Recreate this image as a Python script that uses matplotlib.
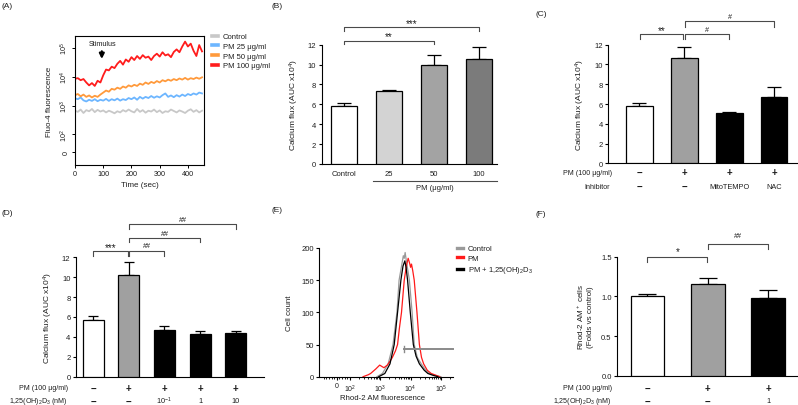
import matplotlib
matplotlib.use('Agg')
import matplotlib.pyplot as plt
import numpy as np
from matplotlib.lines import Line2D
from matplotlib.transforms import blended_transform_factory

plt.rcParams['font.family'] = ['Liberation Sans', 'DejaVu Sans']
plt.rcParams['mathtext.fontset'] = 'custom'
plt.rcParams['mathtext.rm'] = 'Liberation Sans'
plt.rcParams['mathtext.it'] = 'Liberation Sans:italic'
plt.rcParams['mathtext.bf'] = 'Liberation Sans:bold'
plt.rcParams['mathtext.default'] = 'rm'
plt.rcParams['axes.linewidth'] = 0.8
TXT = '#1e1e1e'

# ---------------- data ----------------
# (A) Fluo-4 traces, log10 fluorescence every 10 s
time_sec = [0, 10, 20, 30, 40, 50, 60, 70, 80, 90, 100, 110, 120, 130, 140, 150,
            160, 170, 180, 190, 200, 210, 220, 230, 240, 250, 260, 270, 280, 290,
            300, 310, 320, 330, 340, 350, 360, 370, 380, 390, 400, 410, 420, 430,
            440, 450]
ctrl_log = [2.82, 2.78, 2.86, 2.74, 2.84, 2.80, 2.88, 2.77, 2.85, 2.79, 2.83, 2.76,
            2.82, 2.78, 2.73, 2.80, 2.76, 2.84, 2.79, 2.86, 2.80, 2.76, 2.88, 2.78,
            2.84, 2.75, 2.82, 2.79, 2.86, 2.77, 2.83, 2.74, 2.80, 2.78, 2.86, 2.81,
            2.76, 2.83, 2.79, 2.74, 2.82, 2.87, 2.78, 2.84, 2.76, 2.82]
pm25_log = [3.25, 3.22, 3.28, 3.18, 3.14, 3.20, 3.16, 3.22, 3.15, 3.20, 3.17, 3.23,
            3.16, 3.22, 3.18, 3.24, 3.17, 3.22, 3.19, 3.26, 3.22, 3.28, 3.20, 3.30,
            3.24, 3.30, 3.26, 3.33, 3.27, 3.32, 3.28, 3.36, 3.42, 3.30, 3.35, 3.29,
            3.36, 3.31, 3.38, 3.33, 3.40, 3.36, 3.42, 3.38, 3.45, 3.42]
pm50_log = [3.36, 3.40, 3.32, 3.38, 3.30, 3.35, 3.28, 3.34, 3.30, 3.38, 3.45, 3.52,
            3.48, 3.58, 3.55, 3.62, 3.58, 3.66, 3.62, 3.70, 3.66, 3.72, 3.68, 3.76,
            3.72, 3.80, 3.75, 3.82, 3.78, 3.85, 3.80, 3.88, 3.84, 3.90, 3.86, 3.92,
            3.88, 3.94, 3.90, 3.96, 3.90, 3.95, 3.92, 3.97, 3.93, 3.98]
pm100_log = [3.93, 3.95, 3.88, 3.92, 3.80, 3.70, 3.78, 3.68, 3.86, 3.80, 4.05, 4.25,
             4.22, 4.35, 4.30, 4.45, 4.55, 4.42, 4.60, 4.52, 4.68, 4.58, 4.72, 4.62,
             4.75, 4.66, 4.70, 4.58, 4.72, 4.80, 4.70, 4.85, 4.74, 4.78, 4.68, 4.86,
             4.95, 4.85, 5.05, 5.22, 5.05, 5.15, 4.90, 4.72, 5.10, 4.88]
trace_labels = ['Control', 'PM 25 μg/ml', 'PM 50 μg/ml', 'PM 100 μg/ml']
trace_colors = ['#c8c8c8', '#6db6ff', '#ff9a3c', '#ff1c1c']

# (B)
b_labels = ['Control', '25', '50', '100']
b_means = [5.8, 7.3, 10.0, 10.6]
b_errs = [0.3, 0.12, 1.0, 1.15]

# (C)
c_means = [5.77, 10.62, 5.1, 6.71]
c_errs = [0.3, 1.18, 0.05, 0.98]
c_pm = ['−', '+', '+', '+']
c_inhib = ['−', '−', 'MitoTEMPO', 'NAC']

# (D)
d_means = [5.73, 10.22, 4.69, 4.29, 4.36]
d_errs = [0.4, 1.34, 0.37, 0.33, 0.2]
d_pm = ['−', '+', '+', '+', '+']
d_vd = ['−', '−', '10$^{-1}$', '1', '10']

# (E) Rhod-2 AM histograms (fluorescence, cell count)
e_ctrl_x = [776, 1175, 1820, 2630, 3548, 4169, 5754, 6166, 6607, 7244, 9120,
            11220, 13183, 16600, 22390, 31620, 41690, 63100, 100000]
e_ctrl_y = [0, 5, 20, 50, 100, 150, 188, 184, 193, 180, 150, 100, 50, 30, 20, 10, 5, 2, 0]
e_pm_x = [270, 400, 480, 710, 955, 1120, 1320, 1700, 2090, 2510, 3160, 3715, 4265,
          5012, 6166, 7244, 8318, 9333, 10000, 10720, 11750, 13180, 16220, 19500,
          22900, 26920, 35480, 47860, 70790, 91200]
e_pm_y = [0, 3, 5, 12, 18, 16, 14, 18, 24, 30, 40, 50, 75, 100, 150, 172, 184, 176,
          170, 175, 165, 150, 100, 50, 30, 20, 10, 5, 2, 0]
e_vd_x = [890, 1410, 2090, 2880, 3715, 4786, 5623, 6457, 7080, 7943, 9772, 12300,
          15140, 19500, 28180, 37150, 56230, 79430]
e_vd_y = [0, 5, 20, 50, 100, 150, 172, 180, 170, 150, 100, 50, 32, 20, 10, 5, 2, 0]
e_gate = [5900, 245000]
e_gate_level = 43
e_labels = ['Control', 'PM', 'PM + 1,25(OH)$_2$D$_3$']

# (F)
f_means = [1.0, 1.152, 0.976]
f_errs = [0.025, 0.084, 0.104]
f_pm = ['−', '+', '+']
f_vd = ['−', '−', '1']

# ---------------- figure ----------------
W, H = 798, 406
fig = plt.figure(figsize=(W / 100, H / 100), dpi=100)


def px_axes(x0, y0, x1, y1):
    return fig.add_axes([x0 / W, 1 - y1 / H, (x1 - x0) / W, (y1 - y0) / H])


def ftext(x, y, s, **kw):
    kw.setdefault('color', TXT)
    fig.text(x / W, 1 - y / H, s, **kw)


def style_open(ax):
    ax.spines['top'].set_visible(False)
    ax.spines['right'].set_visible(False)
    ax.tick_params(axis='both', direction='out', length=2.5, width=0.8,
                   labelsize=5.5, labelcolor=TXT, pad=1.5)


def bar_panel(box, means, errs, colors, xlim, ymax, yticks, width, capsize):
    ax = px_axes(*box)
    x = np.arange(len(means))
    ax.bar(x, means, width=width, color=colors, edgecolor='black', linewidth=0.9, zorder=3)
    ax.errorbar(x, means, yerr=[np.zeros(len(means)), errs], fmt='none', ecolor='black',
                elinewidth=0.9, capsize=capsize, capthick=0.9, zorder=2)
    ax.set_xlim(*xlim)
    ax.set_ylim(0, ymax)
    ax.set_yticks(yticks)
    style_open(ax)
    return ax


def brackets(ax, box, ymax, specs):
    y0, y1 = box[1], box[3]

    def yv(ypx):
        return (y1 - ypx) / (y1 - y0) * ymax

    for i, j, line_px, drop_px, lab, base_px, fs in specs:
        ax.plot([i, i, j, j], [yv(line_px + drop_px), yv(line_px), yv(line_px), yv(line_px + drop_px)],
                color='#4a4a4a', lw=0.8, clip_on=False)
        ax.text((i + j) / 2, yv(base_px), lab, ha='center', va='baseline', fontsize=fs,
                color=TXT, clip_on=False)


def row_labels(ax, box, rows):
    y0, y1 = box[1], box[3]
    tr = blended_transform_factory(ax.transData, ax.transAxes)
    for name, vals, ypx, name_x in rows:
        ya = (y1 - ypx) / (y1 - y0)
        for k, v in enumerate(vals):
            if v in ('−', '+'):
                ax.text(k, ya, v, transform=tr, ha='center', va='center', fontsize=7,
                        fontweight='bold', color=TXT, clip_on=False)
            else:
                ax.text(k, ya, v, transform=tr, ha='center', va='center', fontsize=5.3,
                        color=TXT, clip_on=False)
        ftext(name_x, ypx, name, ha='right', va='center', fontsize=5.1)


# ---- (A)
boxA = (75, 37, 204, 166)
axA = px_axes(*boxA)
for vals, c in zip([ctrl_log, pm25_log, pm50_log, pm100_log], trace_colors):
    axA.plot(time_sec, 10 ** np.array(vals), color=c, lw=1.3)
axA.set_yscale('symlog', linthresh=100, linscale=0.62 * 0.9)
axA.set_ylim(-72, 2.6e5)
axA.set_xlim(0, 457)
axA.set_xticks([0, 100, 200, 300, 400])
axA.set_yticks([0, 1e2, 1e3, 1e4, 1e5])
axA.set_yticklabels(['0', '10$^2$', '10$^3$', '10$^4$', '10$^5$'], rotation=90, va='center')
axA.yaxis.set_minor_locator(matplotlib.ticker.NullLocator())
axA.tick_params(axis='both', direction='out', length=2, width=0.7, labelsize=5.2,
                labelcolor=TXT, pad=1.5)
axA.set_xlabel('Time (sec)', fontsize=5.8, color=TXT, labelpad=3)
axA.set_ylabel('Fluo-4 fluorescence', fontsize=5.8, color=TXT, labelpad=4)
axA.annotate('', xy=(95, 10 ** 4.52), xytext=(95, 10 ** 4.98),
             arrowprops=dict(arrowstyle='-|>', lw=1.6, color='black', mutation_scale=7))
axA.text(99, 10 ** 5.17, 'Stimulus', ha='center', va='center', fontsize=5.2, color=TXT)
hA = [Line2D([], [], color=c, lw=2.6) for c in trace_colors]
fig.legend(hA, trace_labels, loc='upper left', bbox_to_anchor=(212 / W, 1 - 34 / H),
           frameon=False, fontsize=5.5, handlelength=0.8, handletextpad=0.6,
           labelspacing=0.3, borderaxespad=0, borderpad=0, labelcolor=TXT)

# ---- (B)
boxB = (321.7, 45.7, 496.7, 165)
axB = bar_panel(boxB, b_means, b_errs, ['white', '#d3d3d3', '#a3a3a3', '#7b7b7b'],
                (-0.5, 3.39), 12, [0, 2, 4, 6, 8, 10, 12], 0.57, 4.8)
axB.set_xticks(range(len(b_labels)))
axB.set_xticklabels(b_labels)
axB.tick_params(axis='x', length=0, pad=4, labelsize=5.5)
axB.set_ylabel('Calcium flux (AUC x10$^4$)', fontsize=6, color=TXT, labelpad=5)
brackets(axB, boxB, 12, [(0, 2, 41.7, 3.5, '**', 40.3, 7), (0, 3, 28.3, 3.7, '***', 27.5, 7)])
fig.add_artist(Line2D([373 / W, 497 / W], [1 - 182 / H, 1 - 182 / H], color='#4a4a4a', lw=0.8))
ftext(435, 189, 'PM (μg/ml)', ha='center', va='center', fontsize=5.5)

# ---- (C)
boxC = (608.3, 45.7, 796.7, 164.3)
axC = bar_panel(boxC, c_means, c_errs, ['white', '#a0a0a0', 'black', 'black'],
                (-0.69, 3.5), 12, [0, 2, 4, 6, 8, 10, 12], 0.59, 4.8)
axC.set_xticks([])
axC.set_ylabel('Calcium flux (AUC x10$^4$)', fontsize=6, color=TXT, labelpad=5)
brackets(axC, boxC, 12, [(0.02, 0.98, 35, 5, '**', 34.3, 7),
                         (1.02, 2.0, 35, 5, '#', 31.6, 5.2),
                         (1.02, 3.0, 22.3, 5.4, '#', 19, 5.2)])
row_labels(axC, boxC, [('PM (100 μg/ml)', c_pm, 173.3, 611.7),
                       ('Inhibitor', c_inhib, 187.3, 610)])

# ---- (D)
boxD = (76, 258.3, 263.5, 377.7)
axD = bar_panel(boxD, d_means, d_errs, ['white', '#a0a0a0', 'black', 'black', 'black'],
                (-0.48, 4.78), 12, [0, 2, 4, 6, 8, 10, 12], 0.59, 3.8)
axD.set_xticks([])
axD.set_ylabel('Calcium flux (AUC x10$^4$)', fontsize=6, color=TXT, labelpad=5)
brackets(axD, boxD, 12, [(0.0, 0.98, 251.7, 5, '***', 251.0, 7),
                         (1.02, 2.0, 251.7, 5, '##', 248.3, 5.2),
                         (1.02, 3.0, 239.3, 4, '##', 235.7, 5.2),
                         (1.02, 4.0, 225, 5, '##', 222.3, 5.2)])
row_labels(axD, boxD, [('PM (100 μg/ml)', d_pm, 389, 68),
                       ('1,25(OH)$_2$D$_3$ (nM)', d_vd, 401.7, 68)])

# ---- (E)
boxE = (319.3, 249, 452.7, 377.7)
axE = px_axes(*boxE)
axE.plot(e_ctrl_x, e_ctrl_y, color='#9a9a9a', lw=0.9)
axE.plot(e_pm_x, e_pm_y, color='#ff1a1a', lw=0.9)
axE.plot(e_vd_x, e_vd_y, color='black', lw=0.9)
axE.set_xscale('symlog', linthresh=100, linscale=0.433 * 0.9)
axE.set_xlim(-140, 2.45e5)
axE.set_ylim(0, 200)
axE.plot(e_gate, [e_gate_level, e_gate_level], color='#8a8a8a', lw=1.4, clip_on=False)
axE.plot([e_gate[0], e_gate[0]], [e_gate_level - 4, e_gate_level + 4], color='#8a8a8a', lw=1.0)
axE.set_xticks([0, 1e2, 1e3, 1e4, 1e5])
axE.set_xticklabels(['0', '10$^2$', '10$^3$', '10$^4$', '10$^5$'])
minor = ([-100, -80, -60, -40, -20, 20, 40, 60, 80]
         + [m * 10 ** k for k in (2, 3, 4) for m in range(2, 10)] + [2e5])
axE.set_xticks(minor, minor=True)
axE.set_yticks([0, 50, 100, 150, 200])
style_open(axE)
axE.tick_params(axis='x', which='minor', length=1.6, width=0.6)
axE.tick_params(axis='x', labelsize=5)
ftext(383, 399, 'Rhod-2 AM fluorescence', ha='center', va='center', fontsize=5.6)
axE.set_ylabel('Cell count', fontsize=5.8, color=TXT, labelpad=6)
hE = [Line2D([], [], color=c, lw=2.4) for c in ['#9a9a9a', '#ff1a1a', 'black']]
fig.legend(hE, e_labels, loc='upper left', bbox_to_anchor=(457 / W, 1 - 246 / H),
           frameon=False, fontsize=5.5, handlelength=0.8, handletextpad=0.6,
           labelspacing=0.3, borderaxespad=0, borderpad=0, labelcolor=TXT)

# ---- (F)
boxF = (617.3, 257.7, 797, 376.7)
axF = bar_panel(boxF, f_means, f_errs, ['white', '#a0a0a0', 'black'],
                (-0.5, 2.48), 1.5, [0.0, 0.5, 1.0, 1.5], 0.56, 6.3)
axF.set_xticks([])
axF.set_yticklabels(['0.0', '0.5', '1.0', '1.5'])
axF.set_ylabel('Rhod-2 AM$^+$ cells\n(Folds vs control)', fontsize=5.8, color=TXT, labelpad=5)
brackets(axF, boxF, 1.5, [(0.0, 0.99, 258.3, 4.4, '*', 255.2, 7),
                          (1.0, 2.0, 245, 5, '##', 238.3, 5.2)])
row_labels(axF, boxF, [('PM (100 μg/ml)', f_pm, 389, 611.7),
                       ('1,25(OH)$_2$D$_3$ (nM)', f_vd, 401.7, 611.7)])

# ---- panel letters
for x, y, s in [(2, 7, '(A)'), (272, 7, '(B)'), (536, 15, '(C)'),
                (1, 214, '(D)'), (272, 211, '(E)'), (536, 215, '(F)')]:
    ftext(x, y, s, ha='left', va='center', fontsize=6)

fig.savefig('out.png', dpi=100)
